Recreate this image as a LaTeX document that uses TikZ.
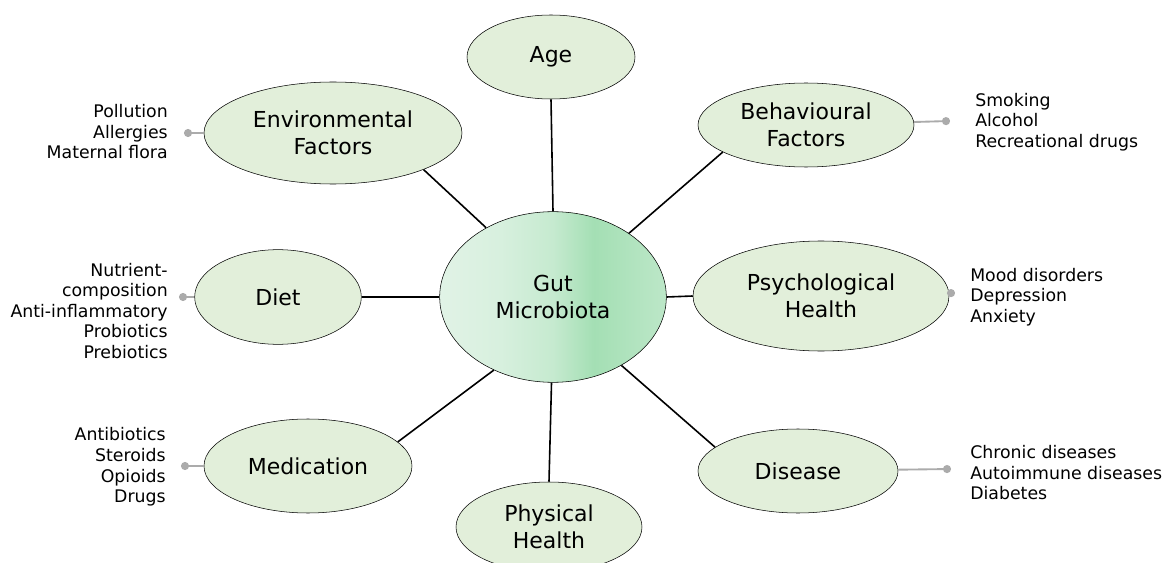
\documentclass[tikz,border=0pt]{standalone}
\usepackage{fontspec}
\setmainfont{DejaVu Sans}
\usetikzlibrary{shapes.geometric,arrows.meta,positioning}

\definecolor{leafgreen}{HTML}{E2EFDA}
\definecolor{gutlight}{HTML}{E1F3E6}
\definecolor{gutmid}{HTML}{A4DFB4}
\definecolor{tiegray}{HTML}{ABABAB}
\pgfdeclarehorizontalshading{gutshade}{100bp}{color(0bp)=(gutlight); color(25bp)=(gutlight); color(38bp)=(gutlight!85!gutmid); color(50bp)=(gutlight!55!gutmid); color(59bp)=(gutmid); color(75bp)=(gutlight!40!gutmid); color(100bp)=(gutlight!40!gutmid)}

\begin{document}
\begin{tikzpicture}[x=0.75pt,y=-0.75pt,
            factor/.style={ellipse,draw,thin,fill=leafgreen,inner sep=0pt,align=center,
                font=\fontsize{16.5}{20.3}\selectfont},
            tie/.style={draw=tiegray,line width=1.4pt,-{Circle[length=6pt,fill=tiegray]}},
            items/.style={inner sep=0pt,font=\fontsize{13}{15.4}\selectfont}]

        \useasboundingbox (0,0) rectangle (1164,563);

        \node[factor,minimum width=170pt,minimum height=128pt,shading=gutshade] (gut) at (553,297) {Gut\\Microbiota};
        \node[factor,minimum width=126pt,minimum height=63pt] (age) at (551,57) {Age};
        \node[factor,minimum width=193.5pt,minimum height=76.5pt] (env) at (333,133) {Environmental\\Factors};
        \node[factor,minimum width=162pt,minimum height=63pt] (behav) at (806,125) {Behavioural\\Factors};
        \node[factor,minimum width=125pt,minimum height=71pt] (diet) at (278,297) {Diet};
        \node[factor,minimum width=192pt,minimum height=82.5pt] (psych) at (821,296) {Psychological\\Health};
        \node[factor,minimum width=156pt,minimum height=70.5pt] (med) at (308,466) {Medication};
        \node[factor,minimum width=139.5pt,minimum height=67.5pt] (phys) at (549,527) {Physical\\Health};
        \node[factor,minimum width=150pt,minimum height=63pt] (dis) at (798,471) {Disease};

        \path[draw,line width=1.2pt]
        (gut.90) edge (age.270)
        (gut.134) edge (env.338)
        (gut.40) edge (behav.198)
        (gut.180) edge (diet.0)
        (gut.0) edge (psych.180)
        (gut.231) edge (med.15)
        (gut.269) edge (phys.90)
        (gut.315) edge (dis.164);

        % side lists
        \coordinate (envdot) at (184,133);
        \coordinate (behavdot) at (950,121);
        \coordinate (dietdot) at (179,297);
        \coordinate (psychdot) at (955,293);
        \coordinate (meddot) at (181,466);
        \coordinate (disdot) at (951,469);

        \path[tie]
        (env) edge (envdot)
        (behav) edge (behavdot)
        (diet) edge (dietdot)
        (psych) edge (psychdot)
        (med) edge (meddot)
        (dis) edge (disdot);

        \node[items,anchor=east,align=right] (envlist) at (168,132) {Pollution\\Allergies\\Maternal flora};
        \node[items,anchor=west,align=left] (behavlist) at (975,122) {Smoking\\Alcohol\\Recreational drugs};
        \node[items,anchor=east,align=right] (dietlist) at (168,311) {Nutrient-\\composition\\Anti-inflammatory\\Probiotics\\Prebiotics};
        \node[items,anchor=west,align=left] (psychlist) at (970,297) {Mood disorders\\Depression\\Anxiety};
        \node[items,anchor=east,align=right] (medlist) at (166,467) {Antibiotics\\Steroids\\Opioids\\Drugs};
        \node[items,anchor=west,align=left] (dislist) at (970,473) {Chronic diseases\\Autoimmune diseases\\Diabetes};

    \end{tikzpicture}
\end{document}
